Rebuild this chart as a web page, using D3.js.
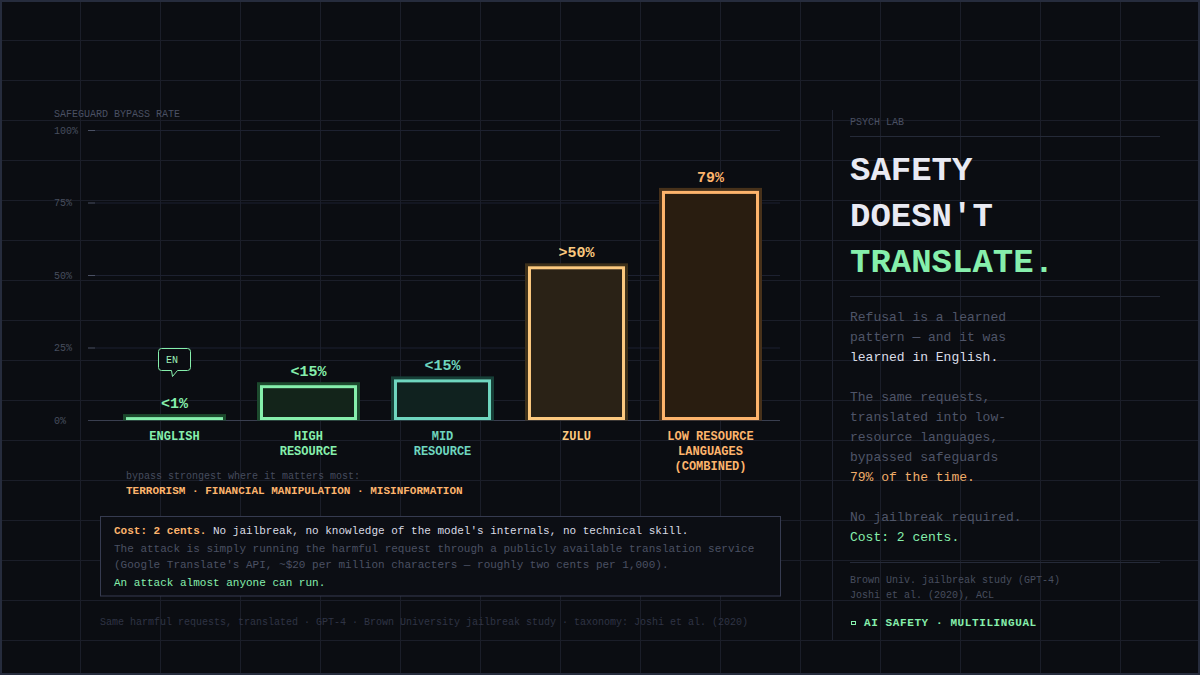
<!DOCTYPE html>
<html>
<head>
<meta charset="utf-8">
<script src="https://cdn.jsdelivr.net/npm/d3@7"></script>
<style>
  html, body { margin: 0; padding: 0; background: #0b0d12; }
  svg { display: block; }
  text { font-family: "Liberation Mono", "DejaVu Sans Mono", monospace; }
</style>
</head>
<body>
<div id="chart"></div>
<script>
// chart data
const categories = ["ENGLISH", "HIGH RESOURCE", "MID RESOURCE", "ZULU", "LOW RESOURCE LANGUAGES (COMBINED)"];
const categoryLines = [["ENGLISH"], ["HIGH", "RESOURCE"], ["MID", "RESOURCE"], ["ZULU"], ["LOW RESOURCE", "LANGUAGES", "(COMBINED)"]];
const bypassRates = [1, 12, 14, 53, 79];
const rateLabels = ["<1%", "<15%", "<15%", ">50%", "79%"];
const yTicks = [0, 25, 50, 75, 100];
const yTickLabels = ["0%", "25%", "50%", "75%", "100%"];

// colours per bar: stroke, fill, halo
const palette = [
  { stroke: "#86efac", fill: "#14241a", halo: "#1c4a2d" },
  { stroke: "#86efac", fill: "#13241a", halo: "#1c4a2d" },
  { stroke: "#6fd6bf", fill: "#10221f", halo: "#173f37" },
  { stroke: "#fcc97f", fill: "#2a2216", halo: "#3d301a" },
  { stroke: "#fdb46c", fill: "#291d10", halo: "#47311a" }
];

const W = 1200, H = 675;

const svg = d3.select("#chart").append("svg")
  .attr("width", W)
  .attr("height", H);

svg.append("rect")
  .attr("width", W).attr("height", H)
  .attr("fill", "#0b0d12");

// background grid
const grid = svg.append("g").attr("stroke", "#1b1e29").attr("stroke-width", 1);
d3.range(80, W, 80).forEach(x => {
  grid.append("line").attr("x1", x + 0.5).attr("x2", x + 0.5).attr("y1", 0).attr("y2", H);
});
d3.range(40, H, 40).forEach(y => {
  grid.append("line").attr("x1", 0).attr("x2", W).attr("y1", y + 0.5).attr("y2", y + 0.5);
});

// frame
svg.append("rect")
  .attr("x", 1).attr("y", 1)
  .attr("width", W - 2).attr("height", H - 2)
  .attr("fill", "none")
  .attr("stroke", "#262c3d")
  .attr("stroke-width", 2);

// ---- chart ----
const x = d3.scaleBand()
  .domain(categories)
  .range([107.5, 777.5])
  .paddingInner(0.276)
  .paddingOuter(0.138);

const y = d3.scaleLinear()
  .domain([0, 100])
  .range([420, 130]);

const chart = svg.append("g");

chart.append("text")
  .attr("x", 54).attr("y", 117)
  .attr("font-size", 10)
  .attr("fill", "#4a5063")
  .text("SAFEGUARD BYPASS RATE");

// y grid + ticks
const yAxis = chart.append("g");
yAxis.selectAll("line.grid")
  .data(yTicks.filter(d => d > 0))
  .join("line")
  .attr("class", "grid")
  .attr("x1", 95).attr("x2", 780)
  .attr("y1", d => y(d) + 0.5).attr("y2", d => y(d) + 0.5)
  .attr("stroke", "#1d2130");

yAxis.selectAll("line.tick")
  .data(yTicks)
  .join("line")
  .attr("class", "tick")
  .attr("x1", 88).attr("x2", 95)
  .attr("y1", d => y(d) + 0.5).attr("y2", d => y(d) + 0.5)
  .attr("stroke", "#4a5063");

yAxis.selectAll("text")
  .data(yTicks)
  .join("text")
  .attr("x", 54)
  .attr("y", d => y(d) + 3.5)
  .attr("font-size", 10)
  .attr("fill", "#474d5e")
  .text((d, i) => yTickLabels[i]);

// baseline
chart.append("line")
  .attr("x1", 88).attr("x2", 780)
  .attr("y1", y(0) + 0.5).attr("y2", y(0) + 0.5)
  .attr("stroke", "#3a3f50");

// bars: halo, bright edge, dark tinted inside
const bars = chart.selectAll("g.bar")
  .data(categories)
  .join("g")
  .attr("class", "bar");

bars.append("rect")
  .attr("x", d => x(d) - 3)
  .attr("y", (d, i) => y(bypassRates[i]) - 3)
  .attr("width", x.bandwidth() + 6)
  .attr("height", (d, i) => y(0) - y(bypassRates[i]) + 3.5)
  .attr("fill", (d, i) => palette[i].halo);

bars.append("rect")
  .attr("x", d => x(d))
  .attr("y", (d, i) => y(bypassRates[i]))
  .attr("width", x.bandwidth())
  .attr("height", (d, i) => y(0) - y(bypassRates[i]))
  .attr("fill", (d, i) => palette[i].stroke);

bars.append("rect")
  .attr("x", d => x(d) + 3)
  .attr("y", (d, i) => y(bypassRates[i]) + 3)
  .attr("width", x.bandwidth() - 6)
  .attr("height", (d, i) => Math.max(0, y(0) - y(bypassRates[i]) - 6))
  .attr("fill", (d, i) => palette[i].fill);

bars.append("text")
  .attr("x", d => x(d) + x.bandwidth() / 2)
  .attr("y", (d, i) => y(bypassRates[i]) - 9)
  .attr("text-anchor", "middle")
  .attr("font-size", 15)
  .attr("font-weight", "bold")
  .attr("fill", (d, i) => palette[i].stroke)
  .text((d, i) => rateLabels[i]);

bars.each(function (d, i) {
  const t = d3.select(this).append("text")
    .attr("text-anchor", "middle")
    .attr("font-size", 12)
    .attr("font-weight", "bold")
    .attr("fill", palette[i].stroke);
  categoryLines[i].forEach((line, k) => {
    t.append("tspan")
      .attr("x", x(d) + x.bandwidth() / 2)
      .attr("y", 440 + k * 15)
      .text(line);
  });
});

// EN speech bubble over English bar
const enX = x(categories[0]) + x.bandwidth() / 2;
const bubble = chart.append("g").attr("transform", `translate(${enX},359.5)`);
bubble.append("path")
  .attr("d", "M-16,-8 a3,3 0 0 1 3,-3 h26 a3,3 0 0 1 3,3 v16 a3,3 0 0 1 -3,3 h-10 l-5,6 l-1,-6 h-10 a3,3 0 0 1 -3,-3 z")
  .attr("fill", "#0b0d12")
  .attr("stroke", "#86efac")
  .attr("stroke-width", 1);
bubble.append("text")
  .attr("x", -8.5).attr("y", 3.5)
  .attr("font-size", 10)
  .attr("fill", "#9ff0b8")
  .text("EN");

// note under chart
chart.append("text")
  .attr("x", 126).attr("y", 479)
  .attr("font-size", 10)
  .attr("fill", "#464c5e")
  .text("bypass strongest where it matters most:");
chart.append("text")
  .attr("x", 126).attr("y", 494)
  .attr("font-size", 11)
  .attr("font-weight", "bold")
  .attr("fill", "#fdb46c")
  .text("TERRORISM \u00b7 FINANCIAL MANIPULATION \u00b7 MISINFORMATION");

// cost box
chart.append("rect")
  .attr("x", 100.5).attr("y", 516.5)
  .attr("width", 680).attr("height", 79.5)
  .attr("fill", "#0c0e14")
  .attr("stroke", "#363b50")
  .attr("stroke-width", 1);

const l1 = chart.append("text")
  .attr("x", 114).attr("y", 534)
  .attr("font-size", 11);
l1.append("tspan").attr("font-weight", "bold").attr("fill", "#fdb46c").text("Cost: 2 cents.");
l1.append("tspan").attr("fill", "#d9dbe4").text(" No jailbreak, no knowledge of the model's internals, no technical skill.");

chart.append("text")
  .attr("x", 114).attr("y", 552)
  .attr("font-size", 11)
  .attr("fill", "#4b5163")
  .text("The attack is simply running the harmful request through a publicly available translation service");
chart.append("text")
  .attr("x", 114).attr("y", 568)
  .attr("font-size", 11)
  .attr("fill", "#4b5163")
  .text("(Google Translate's API, ~$20 per million characters \u2014 roughly two cents per 1,000).");
chart.append("text")
  .attr("x", 114).attr("y", 586)
  .attr("font-size", 11)
  .attr("fill", "#86efac")
  .text("An attack almost anyone can run.");

chart.append("text")
  .attr("x", 100).attr("y", 625)
  .attr("font-size", 10)
  .attr("fill", "#2f3445")
  .text("Same harmful requests, translated \u00b7 GPT-4 \u00b7 Brown University jailbreak study \u00b7 taxonomy: Joshi et al. (2020)");

// ---- right panel ----
const side = svg.append("g");
side.append("line")
  .attr("x1", 832.5).attr("x2", 832.5)
  .attr("y1", 110).attr("y2", 640)
  .attr("stroke", "#1f2330");

side.append("text")
  .attr("x", 850).attr("y", 125)
  .attr("font-size", 10)
  .attr("fill", "#4a5063")
  .text("PSYCH LAB");

[136, 296, 562].forEach(yy => {
  side.append("line")
    .attr("x1", 850).attr("x2", 1160)
    .attr("y1", yy + 0.5).attr("y2", yy + 0.5)
    .attr("stroke", "#252a38");
});

const titleLines = [["SAFETY", "#e9eaf3"], ["DOESN'T", "#e9eaf3"], ["TRANSLATE.", "#86efac"]];
titleLines.forEach(([t, c], k) => {
  side.append("text")
    .attr("x", 850).attr("y", 180 + k * 46)
    .attr("font-size", 34)
    .attr("font-weight", "bold")
    .attr("fill", c)
    .text(t);
});

const bodyLines = [
  ["Refusal is a learned", "#4f5568"],
  ["pattern \u2014 and it was", "#4f5568"],
  ["learned in English.", "#dcdee8"],
  ["", ""],
  ["The same requests,", "#4f5568"],
  ["translated into low-", "#4f5568"],
  ["resource languages,", "#4f5568"],
  ["bypassed safeguards", "#4f5568"],
  ["79% of the time.", "#f0ad6a"],
  ["", ""],
  ["No jailbreak required.", "#4f5568"],
  ["Cost: 2 cents.", "#86efac"]
];
bodyLines.forEach(([t, c], k) => {
  if (!t) return;
  side.append("text")
    .attr("x", 850).attr("y", 321 + k * 20)
    .attr("font-size", 13)
    .attr("fill", c)
    .text(t);
});

side.append("text")
  .attr("x", 850).attr("y", 583)
  .attr("font-size", 10)
  .attr("fill", "#484e5f")
  .text("Brown Univ. jailbreak study (GPT-4)");
side.append("text")
  .attr("x", 850).attr("y", 598)
  .attr("font-size", 10)
  .attr("fill", "#484e5f")
  .text("Joshi et al. (2020), ACL");

side.append("rect")
  .attr("x", 851.5).attr("y", 621.5)
  .attr("width", 4).attr("height", 3)
  .attr("fill", "none")
  .attr("stroke", "#86efac")
  .attr("stroke-width", 1);
side.append("text")
  .attr("x", 864).attr("y", 626)
  .attr("font-size", 11)
  .attr("font-weight", "bold")
  .attr("letter-spacing", 0.6)
  .attr("fill", "#86efac")
  .text("AI SAFETY \u00b7 MULTILINGUAL");
</script>
</body>
</html>
